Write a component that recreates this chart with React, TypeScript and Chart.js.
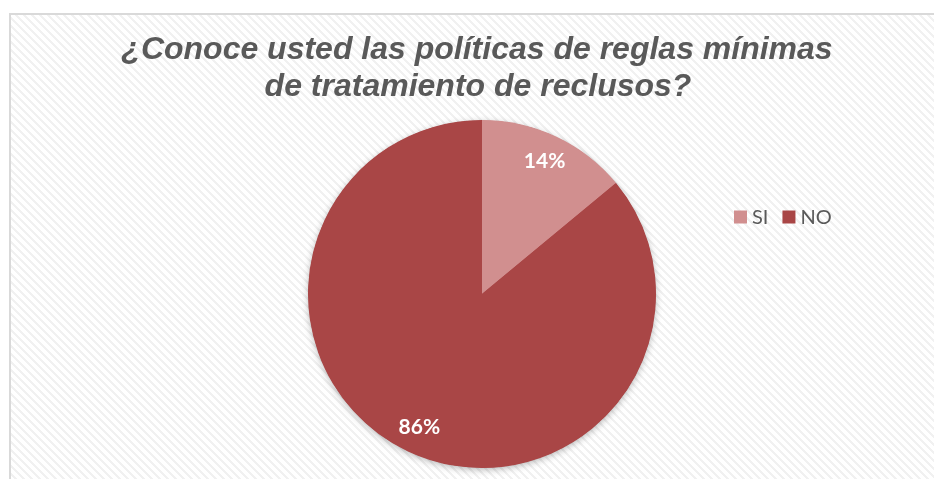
import React, { useEffect, useRef } from "react";
import { Chart, registerables } from "chart.js";

Chart.register(...registerables);

const categories = ["SI", "NO"];
const values = [14, 86];
const percentLabels = ["14%", "86%"];
const sliceColors = ["#D18F8F", "#A94646"];
const titleLines = [
  "¿Conoce usted las políticas de reglas mínimas",
  "de tratamiento de reclusos?",
];

function makePattern(ctx: CanvasRenderingContext2D) {
  const size = 8;
  const c = document.createElement("canvas");
  c.width = size;
  c.height = size;
  const pctx = c.getContext("2d")!;
  const img = pctx.createImageData(size, size);
  for (let y = 0; y < size; y++) {
    for (let x = 0; x < size; x++) {
      const i = (y * size + x) * 4;
      const on = (((x - y) % size) + size) % size < 3;
      const v = on ? 241 : 255;
      img.data[i] = v;
      img.data[i + 1] = v;
      img.data[i + 2] = v;
      img.data[i + 3] = 255;
    }
  }
  pctx.putImageData(img, 0, 0);
  return ctx.createPattern(c, "repeat");
}

const decorPlugin = {
  id: "decor",
  beforeDraw(chart: any) {
    const ctx: CanvasRenderingContext2D = chart.ctx;
    const W = chart.width;
    const H = chart.height;
    ctx.save();
    ctx.fillStyle = "#ffffff";
    ctx.fillRect(0, 0, W, H);
    const pat = makePattern(ctx);
    if (pat) {
      ctx.fillStyle = pat;
      ctx.fillRect(11, 15, W, H);
    }
    ctx.strokeStyle = "#d9d9d9";
    ctx.lineWidth = 2;
    ctx.strokeRect(10, 14, W + 20, H + 20);
    // title
    ctx.fillStyle = "#595959";
    ctx.font = 'italic bold 32px "Liberation Sans", Arial, sans-serif';
    ctx.textAlign = "center";
    ctx.textBaseline = "alphabetic";
    ctx.fillText(titleLines[0], 477, 59);
    ctx.fillText(titleLines[1], 478, 96);
    ctx.restore();
  },
  beforeDatasetsDraw(chart: any) {
    const meta = chart.getDatasetMeta(0);
    const arc = meta.data[0];
    if (!arc) return;
    const ctx: CanvasRenderingContext2D = chart.ctx;
    ctx.save();
    ctx.shadowColor = "rgba(0,0,0,0.3)";
    ctx.shadowBlur = 7;
    ctx.shadowOffsetY = 2;
    ctx.fillStyle = sliceColors[1];
    ctx.beginPath();
    ctx.arc(arc.x, arc.y, arc.outerRadius - 0.5, 0, Math.PI * 2);
    ctx.fill();
    ctx.restore();
  },
  afterDatasetsDraw(chart: any) {
    const meta = chart.getDatasetMeta(0);
    const ctx: CanvasRenderingContext2D = chart.ctx;
    ctx.save();
    ctx.fillStyle = "#ffffff";
    ctx.font = 'bold 21px Lato, "Liberation Sans", sans-serif';
    ctx.textAlign = "center";
    ctx.textBaseline = "middle";
    meta.data.forEach((a: any, i: number) => {
      const mid = (a.startAngle + a.endAngle) / 2;
      const r = a.outerRadius * 0.845;
      ctx.fillText(percentLabels[i], a.x + Math.cos(mid) * r, a.y + Math.sin(mid) * r);
    });
    ctx.restore();
  },
  afterDraw(chart: any) {
    const ctx: CanvasRenderingContext2D = chart.ctx;
    ctx.save();
    ctx.font = '20px Lato, "Liberation Sans", sans-serif';
    ctx.textBaseline = "middle";
    ctx.textAlign = "left";
    let x = 734;
    const cy = 217;
    categories.forEach((c, i) => {
      ctx.fillStyle = sliceColors[i];
      ctx.fillRect(x, cy - 6.5, 13, 13);
      ctx.fillStyle = "#595959";
      ctx.fillText(c, x + 18, cy + 1);
      x += 18 + ctx.measureText(c).width + 14;
    });
    ctx.restore();
  },
};

export default function App() {
  const ref = useRef<HTMLCanvasElement>(null);
  useEffect(() => {
    document.body.style.margin = "0";
    const chart = new Chart(ref.current!, {
      type: "pie",
      data: {
        labels: categories,
        datasets: [
          {
            data: values,
            backgroundColor: sliceColors,
            borderWidth: 0,
          },
        ],
      },
      options: {
        responsive: false,
        animation: false,
        layout: { padding: { left: 308, right: 278, top: 120, bottom: 11 } },
        plugins: {
          legend: { display: false },
          title: { display: false },
          tooltip: { enabled: false },
        },
      },
      plugins: [decorPlugin],
    });
    return () => chart.destroy();
  }, []);
  return (
    <div style={{ position: "absolute", left: 0, top: 0, width: 934, height: 479 }}>
      <canvas ref={ref} width={934} height={479} style={{ display: "block" }} />
    </div>
  );
}
